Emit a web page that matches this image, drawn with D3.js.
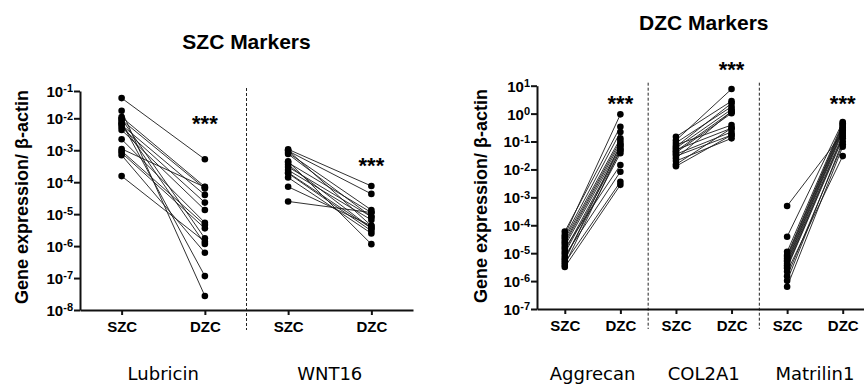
<!DOCTYPE html>
<meta charset="utf-8" />
<style>
  body { margin: 0; background: #fff; }
  svg { display: block; }
  .tick line, .domain { stroke: #111; stroke-width: 2; }
  .pair { stroke: #1a1a1a; stroke-width: 0.9; fill: none; }
  .dot { fill: #000; }
  .sep { stroke: #222; stroke-width: 1; stroke-dasharray: 3,2; }
  .title { font: bold 21px "Liberation Sans", Arial, sans-serif; }
  .ytitle { font: bold 18px "Liberation Sans", Arial, sans-serif; }
  .ticklab { font: bold 15px "Liberation Sans", Arial, sans-serif; }
  .zone { font: bold 15px "Liberation Sans", Arial, sans-serif; }
  .gene { font: 18px "DejaVu Sans", sans-serif; }
  .sig { font: bold 22px "Liberation Sans", Arial, sans-serif; }
</style>
<svg width="864" height="392"></svg>
<script src="https://d3js.org/d3.v7.min.js"></script>
<script>
  // paired samples, SZC value -> DZC value (relative to beta-actin)
  var lubricinSZC = [0.055, 0.019, 0.011, 0.0089, 0.0073, 0.0062, 0.0052, 0.0043, 0.0022, 0.0011, 0.00095, 0.00083, 0.0007, 0.000155, 0.0095, 0.0068];
  var lubricinDZC = [5.2e-4, 2.75e-8, 7.2e-5, 6.4e-5, 1.15e-7, 4.0e-5, 2.3e-5, 1.35e-5, 5.4e-6, 7.0e-5, 4.6e-6, 3.6e-6, 6.2e-7, 1.38e-6, 1.75e-6, 1.17e-6];

  var wnt16SZC = [1.07e-3, 9.5e-4, 8.3e-4, 7.6e-4, 1.0e-3, 4.1e-4, 3.5e-4, 4.5e-4, 2.4e-4, 1.9e-4, 1.4e-4, 7.2e-5, 2.5e-5, 3.0e-4, 2.0e-4];
  var wnt16DZC = [7.6e-5, 4.3e-5, 1.35e-5, 8.3e-6, 4.3e-6, 1.12e-5, 3.6e-6, 1.15e-6, 6.6e-6, 3.0e-6, 2.5e-6, 4.3e-6, 1.12e-5, 8.3e-6, 3.6e-6];

  var aggrecanSZC = [5.9e-5, 4.5e-5, 3.8e-5, 3.2e-5, 2.6e-5, 2.2e-5, 1.8e-5, 1.5e-5, 1.2e-5, 1.0e-5, 8e-6, 6.5e-6, 5.5e-6, 4.5e-6, 3.8e-6, 3.2e-6];
  var aggrecanDZC = [0.34, 0.94, 0.22, 0.13, 0.107, 0.087, 0.069, 0.0144, 0.057, 0.047, 0.0083, 0.038, 0.075, 0.0036, 0.05, 0.0028];

  var col2a1SZC = [0.148, 0.11, 0.09, 0.075, 0.065, 0.058, 0.05, 0.045, 0.04, 0.035, 0.03, 0.025, 0.02, 0.015, 0.013];
  var col2a1DZC = [2.8, 7.6, 1.77, 0.39, 2.34, 1.42, 0.3, 1.17, 1.03, 0.22, 0.17, 1.2, 0.13, 0.3, 0.17];

  var matrilinSZC = [4.9e-4, 3.9e-5, 1.12e-5, 8.5e-6, 7.5e-6, 6.5e-6, 5.5e-6, 4.9e-6, 4.2e-6, 3.7e-6, 3.2e-6, 2.9e-6, 1.02e-6, 6.3e-7, 1.5e-6, 2.2e-6];
  var matrilinDZC = [0.2, 0.5, 0.45, 0.4, 0.36, 0.32, 0.28, 0.25, 0.22, 0.17, 0.15, 0.13, 0.1, 0.065, 0.08, 0.03];

  var zones = ["SZC", "DZC"];
  var szcGenes = ["Lubricin", "WNT16"];
  var dzcGenes = ["Aggrecan", "COL2A1", "Matrilin1"];
  var szcExponents = [-8, -7, -6, -5, -4, -3, -2, -1];
  var dzcExponents = [-7, -6, -5, -4, -3, -2, -1, 0, 1];
  var szcStars = [1e-2, 5e-4];      // level where "***" sits
  var dzcStars = [3.5, 58, 3.5];
  var yLabel = "Gene expression/ \u03b2-actin";

  var svg = d3.select("svg");

  function panel(o) {
    var g = svg.append("g");
    var keys = [];
    o.genes.forEach(function (gn) { zones.forEach(function (z) { keys.push(gn + "|" + z); }); });

    var x = d3.scalePoint().domain(keys).range([o.left, o.right]).padding(0.5);
    var y = d3.scaleLog().domain(o.yDomain).range(o.yRange);
    var bottom = o.yRange[0], top = o.yRange[o.yRange.length - 1];

    // separators between genes
    for (var i = 0; i < o.genes.length - 1; i++) {
      var sx = (x(o.genes[i] + "|DZC") + x(o.genes[i + 1] + "|SZC")) / 2;
      g.append("line").attr("class", "sep")
        .attr("x1", sx).attr("x2", sx).attr("y1", top - 3).attr("y2", bottom + 20);
    }

    // y axis
    var ya = g.append("g").attr("transform", "translate(" + o.left + ",0)")
      .call(d3.axisLeft(y).tickValues(o.exponents.map(function (e) { return Math.pow(10, e); }))
        .tickSize(6).tickSizeOuter(0).tickFormat(function () { return ""; }));
    ya.selectAll(".tick").each(function (d) {
      var t = d3.select(this).append("text").attr("class", "ticklab")
        .attr("x", -7).attr("dy", "0.36em").attr("text-anchor", "end").attr("fill", "#000");
      t.append("tspan").text("10");
      t.append("tspan").attr("dy", "-0.42em").style("font-size", "11px").text(Math.round(Math.log10(d)));
    });

    // x axis
    var xa = g.append("g").attr("transform", "translate(0," + bottom + ")")
      .call(d3.axisBottom(x).tickSize(5).tickSizeOuter(0).tickPadding(6)
        .tickFormat(function (d) { return d.split("|")[1]; }));
    xa.selectAll("text").attr("class", "zone").attr("fill", "#000");

    // paired lines and dots
    o.genes.forEach(function (gn, gi) {
      var s = o.szc[gi], dz = o.dzc[gi];
      var xs = x(gn + "|SZC"), xd = x(gn + "|DZC");
      g.selectAll(null).data(d3.range(s.length)).join("line").attr("class", "pair")
        .attr("x1", xs).attr("y1", function (k) { return y(s[k]); })
        .attr("x2", xd).attr("y2", function (k) { return y(dz[k]); });
      g.selectAll(null).data(s).join("circle").attr("class", "dot")
        .attr("cx", xs).attr("cy", function (v) { return y(v); }).attr("r", 3.3);
      g.selectAll(null).data(dz).join("circle").attr("class", "dot")
        .attr("cx", xd).attr("cy", function (v) { return y(v); }).attr("r", 3.3);

      g.append("text").attr("class", "sig").attr("text-anchor", "middle")
        .attr("x", xd).attr("y", y(o.stars[gi]) + 13).text("***");
      g.append("text").attr("class", "gene").attr("text-anchor", "middle")
        .attr("x", (xs + xd) / 2).attr("y", 380).text(gn);
    });

    g.append("text").attr("class", "title").attr("text-anchor", "middle")
      .attr("x", (o.left + o.right) / 2).attr("y", o.titleY).text(o.title);

    g.append("text").attr("class", "ytitle").attr("text-anchor", "middle")
      .attr("transform", "translate(" + o.yTitleX + "," + o.yTitleY + ") rotate(-90)")
      .text(yLabel);
  }

  panel({
    title: "SZC Markers", titleY: 49, genes: szcGenes,
    szc: [lubricinSZC, wnt16SZC], dzc: [lubricinDZC, wnt16DZC], stars: szcStars,
    left: 80, right: 413, yDomain: [1e-8, 1e-2, 1e-1], yRange: [310, 118.3, 91],
    exponents: szcExponents, yTitleX: 28, yTitleY: 197
  });

  panel({
    title: "DZC Markers", titleY: 30, genes: dzcGenes,
    szc: [aggrecanSZC, col2a1SZC, matrilinSZC], dzc: [aggrecanDZC, col2a1DZC, matrilinDZC], stars: dzcStars,
    left: 537, right: 870.5, yDomain: [1e-7, 10], yRange: [309, 85.7],
    exponents: dzcExponents, yTitleX: 487, yTitleY: 196
  });
</script>
